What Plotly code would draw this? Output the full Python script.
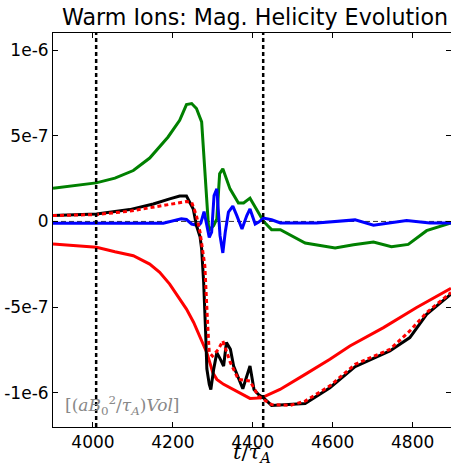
import plotly.graph_objects as go

# ---- data (values in units of 1e-7) ----
t_green = [3900, 4008, 4055, 4101, 4142, 4188, 4217, 4234, 4247, 4259, 4272, 4289, 4292, 4302, 4310,
           4317, 4325, 4343, 4364, 4377, 4393, 4427, 4447, 4469, 4531, 4606, 4652, 4702, 4747, 4789,
           4835, 4896]
v_green = [1.94, 2.25, 2.53, 2.97, 3.70, 4.93, 5.90, 6.82, 6.88, 6.59, 5.81, -0.25, -0.48, -0.25, 0.15,
           2.78, 3.07, 1.90, 1.08, 1.08, 1.36, 0.0, -0.48, -0.48, -1.26, -1.55, -1.36, -1.20, -1.47, -1.34,
           -0.54, -0.09]

t_blue = [3900, 4176, 4221, 4234, 4247, 4264, 4270, 4278, 4285, 4291, 4297, 4303, 4310, 4314, 4318,
          4325, 4331, 4339, 4350, 4360, 4373, 4385, 4393, 4406, 4414, 4427, 4447, 4469, 4560, 4656,
          4702, 4785, 4843, 4896]
v_blue = [-0.11, -0.11, 0.15, 0.11, -0.15, -0.24, -0.09, 0.57, -0.24, -0.93, -0.63, 1.51, 1.90, 0.73, -0.83,
          -1.84, -0.63, 0.54, 0.89, 0.34, -0.44, 0.34, 0.73, -0.15, -0.05, 0.2, 0.1, -0.09, -0.09, 0.09,
          -0.22, 0.05, -0.09, -0.09]

t_black = [3900, 4009, 4092, 4151, 4192, 4217, 4234, 4251, 4259, 4268, 4272, 4277, 4282, 4285, 4291,
           4295, 4302, 4310, 4319, 4327, 4334, 4344, 4352, 4375, 4393, 4403, 4414, 4427, 4447, 4531,
           4593, 4656, 4743, 4793, 4835, 4896]
v_black = [0.34, 0.44, 0.69, 1.02, 1.32, 1.48, 1.48, 0.73, -0.24, -0.90, -1.61, -3.56, -6.49, -8.60, -9.50,
           -9.81, -8.64, -7.66, -8.05, -8.44, -7.07, -7.46, -8.44, -9.77, -8.44, -9.81, -10.1, -10.3, -10.74, -10.63,
           -9.71, -8.48, -7.56, -6.78, -5.42, -4.24]

t_reddot = [3900, 4009, 4092, 4151, 4192, 4234, 4247, 4259, 4268, 4280, 4286, 4291, 4299, 4314, 4325,
            4344, 4364, 4393, 4414, 4447, 4493, 4531, 4593, 4656, 4743, 4793, 4835, 4896]
v_reddot = [0.34, 0.40, 0.60, 0.85, 1.02, 1.16, 1.12, 0.34, -0.63, -2.59, -5.51, -7.66, -7.86, -7.46, -6.98,
            -8.25, -9.22, -9.32, -10.2, -10.69, -10.74, -10.49, -9.60, -8.34, -7.47, -6.39, -5.32, -4.15]

t_red = [3900, 4009, 4055, 4101, 4142, 4167, 4192, 4218, 4234, 4252, 4267, 4285, 4300, 4310, 4327,
         4359, 4393, 4422, 4468, 4531, 4593, 4643, 4727, 4810, 4896]
v_red = [-1.32, -1.51, -1.77, -2.0, -2.49, -2.97, -3.66, -4.54, -5.12, -5.9, -6.69, -7.66, -8.83, -9.22, -9.51,
         -9.9, -10.33, -10.3, -9.81, -8.93, -8.05, -7.27, -6.2, -5.02, -3.91]

vlines = [4008, 4426]
x_ticks = [4000, 4200, 4400, 4600, 4800]
y_tickvals = [1e-6, 5e-7, 0, -5e-7, -1e-6]
y_ticktext = ["1e-6", "5e-7", "0", "-5e-7", "-1e-6"]

S = 1e-7
fig = go.Figure()

def add(t, v, color, dash="solid"):
    fig.add_trace(go.Scatter(x=t, y=[a * S for a in v], mode="lines",
                             line=dict(color=color, width=3, dash=dash), hoverinfo="skip"))

add(t_red, v_red, "#ff0000")
add(t_green, v_green, "#008000")
add(t_blue, v_blue, "#0000ff")
add(t_black, v_black, "#000000")
add(t_reddot, v_reddot, "#ff0000", "4px,3px")

shapes = [dict(type="line", xref="paper", yref="y", x0=0, x1=1, y0=0, y1=0,
               line=dict(color="#333333", width=1, dash="5px,3px"), layer="below")]
for xv in vlines:
    shapes.append(dict(type="line", xref="x", yref="paper", x0=xv, x1=xv, y0=0, y1=1,
                       line=dict(color="black", width=2.5, dash="4px,3px"), layer="above"))

PH = 394  # plot height in px

fig.update_layout(
    width=451, height=468,
    margin=dict(l=53, r=0, t=33, b=468 - 33 - PH, autoexpand=False),
    paper_bgcolor="white", plot_bgcolor="white",
    showlegend=False,
    shapes=shapes,
    font=dict(family="DejaVu Sans", size=17, color="black"),
    xaxis=dict(range=[3900, 4896], tickvals=x_ticks, ticks="inside", ticklen=5, tickcolor="black",
               showline=True, linecolor="black", linewidth=1, mirror="ticks", showgrid=False,
               zeroline=False, tickfont=dict(size=17), automargin=False),
    yaxis=dict(range=[-1.2e-6, 1.1e-6], tickvals=y_tickvals, ticktext=y_ticktext, ticks="inside",
               ticklen=5, tickcolor="black", showline=True, linecolor="black", linewidth=1,
               mirror="ticks", showgrid=False, zeroline=False, tickfont=dict(size=17), automargin=False),
    annotations=[
        dict(xref="paper", yref="paper", x=0.5075, y=1 + 16 / PH, xanchor="center", yanchor="middle",
             text="Warm Ions: Mag. Helicity Evolution", showarrow=False,
             font=dict(family="DejaVu Sans", size=22.2, color="black")),
        dict(xref="paper", yref="paper", x=0.5, y=-26 / PH, xanchor="center", yanchor="middle",
             text="<i>t</i>/<i>τ</i><sub><i>A</i></sub>", showarrow=False,
             font=dict(family="DejaVu Serif", size=21, color="black")),
        dict(xref="paper", yref="paper", x=0.024, y=(427 - 405) / PH, xanchor="left", yanchor="middle",
             text="[(<i>aB</i><sub>0</sub><sup>2</sup>/<i>τ</i><sub><i>A</i></sub>)<i>Vol</i>]",
             showarrow=False, font=dict(family="DejaVu Serif", size=17, color="#888888")),
    ],
)

fig.write_html("out.html", config={"displayModeBar": False, "staticPlot": True},
               post_script="document.body.style.margin='0';document.body.style.overflow='hidden';")
